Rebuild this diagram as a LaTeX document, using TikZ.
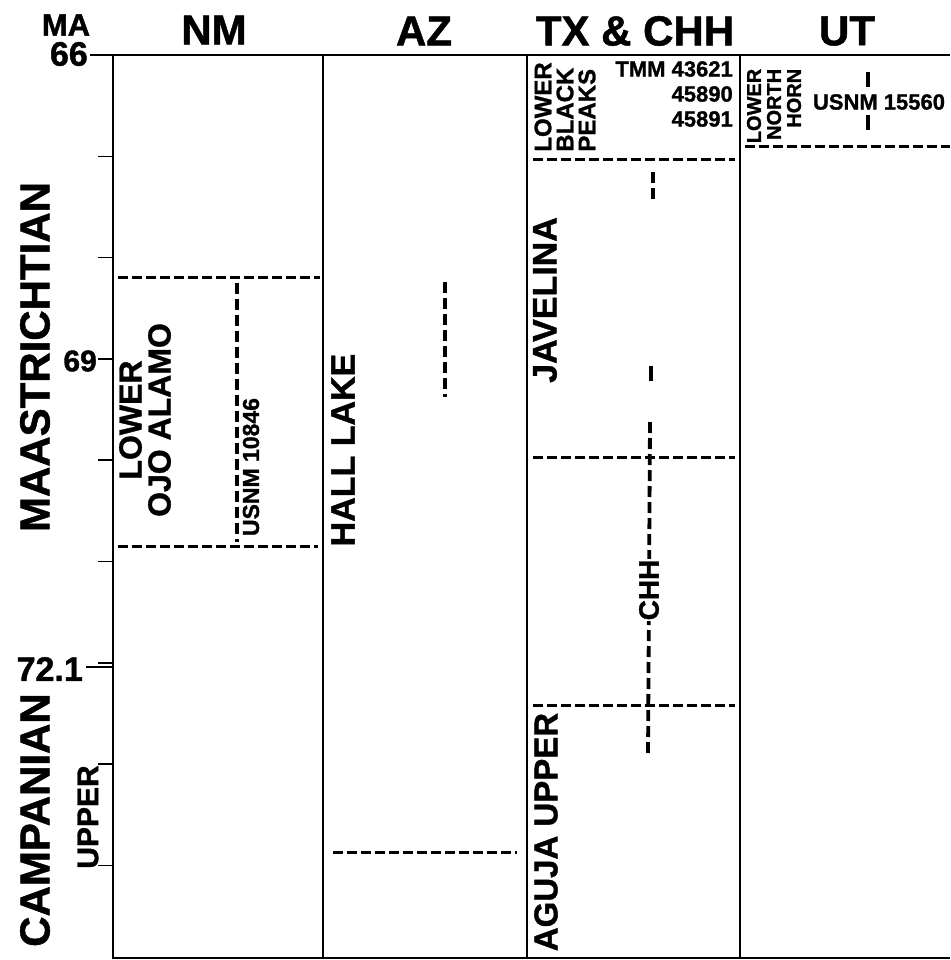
\documentclass[tikz,border=0pt]{standalone}
\usepackage{fontspec}
\setmainfont{Liberation Sans}[BoldFeatures={FakeBold=1.2}]
\usepackage{tikz}
\usetikzlibrary{positioning}

\begin{document}
\begin{tikzpicture}[
    x=1pt, y=-1pt,
    frame/.style={line width=1.7pt},
    tickmark/.style={line width=1.5pt},
    contact/.style={line width=3pt, dash pattern=on 10pt off 4pt},
    rangeline/.style={line width=3.8pt, dash pattern=on 11pt off 5pt},
    stub/.style={line width=3.8pt},
    head/.style={inner sep=0pt, font=\fontsize{42}{42}\selectfont\bfseries},
    stage/.style={inner sep=0pt, rotate=90, font=\fontsize{42}{42}\selectfont\bfseries},
    unit/.style={inner sep=0pt, rotate=90, align=center, font=\fontsize{34}{30}\selectfont\bfseries},
    spec/.style={inner sep=0pt, font=\fontsize{22}{25}\selectfont\bfseries},
    age/.style={inner sep=0pt, anchor=east, font=\fontsize{34}{34}\selectfont\bfseries}
]
    \useasboundingbox (0,0) rectangle (950,960);

    % Frame and columns
    \draw[frame] (90,55) -- (950,55);
    \draw[frame] (113,55) -- (113,958) -- (950,958);
    \foreach \x in {323,527,740}
        \draw[frame] (\x,55) -- (\x,958);

    % Age scale
    \foreach \k in {1,...,8}
        \draw[tickmark] (98,{55+\k*101.3}) -- (113,{55+\k*101.3});
    \draw[tickmark] (86,667) -- (113,667);
    \node[head, font=\fontsize{31}{31}\selectfont\bfseries] (ma) at (66,25) {MA};
    \node[age] (a66) at (88,54) {66};
    \node[age, font=\fontsize{30}{30}\selectfont\bfseries] (a69) at (97,361) {69};
    \node[age] (a72) at (83,669) {72.1};

    % Stages
    \node[stage] (maas) at (35,357) {MAASTRICHTIAN};
    \node[stage] (camp) at (35,820) {CAMPANIAN};
    \node[stage, font=\fontsize{30}{30}\selectfont\bfseries] (upper) at (88,817) {UPPER};

    % Column headings
    \node[head] (nm) at (214,30) {NM};
    \node[head] (az) at (424,31) {AZ};
    \node[head] (tx) at (635,31) {TX \& CHH};
    \node[head] (ut) at (847,31) {UT};

    % NM column
    \draw[contact] (118,277) -- (320,277);
    \draw[contact] (118,546) -- (318,546);
    \draw[rangeline] (237,283) -- (237,542);
    \node[unit, font=\fontsize{32}{29}\selectfont\bfseries] (ojo) at (145,420) {LOWER\\OJO ALAMO};
    \node[spec, rotate=90, font=\fontsize{23}{23}\selectfont\bfseries] (usnm1) at (251,467) {USNM 10846};

    % AZ column
    \node[unit] (hall) at (343,450) {HALL LAKE};
    \draw[rangeline] (445,282) -- (445,397);
    \draw[contact] (333,852) -- (517,852);

    % TX & CHH column
    \node[unit, align=left, font=\fontsize{24}{22}\selectfont\bfseries] (peaks) at (565,107) {LOWER\\BLACK\\PEAKS};
    \node[spec, align=right, anchor=north east] (tmm) at (733,61) {TMM 43621\\45890\\45891};
    \draw[contact] (533,160) -- (735,160);
    \draw[contact] (533,457) -- (735,457);
    \draw[contact] (533,705) -- (735,705);
    \node[unit] (jav) at (545,300) {JAVELINA};
    \node[unit, font=\fontsize{33}{30}\selectfont\bfseries] (aguja) at (546,832) {AGUJA UPPER};
    \draw[rangeline] (653,172) -- (653,202);
    \draw[stub] (651,366) -- (651,381);
    \coordinate (chhtop) at (650,422);
    \coordinate (chhbot) at (648,757);
    \draw[rangeline] (chhtop) -- (chhbot);
    \node[unit, fill=white, inner sep=1pt, font=\fontsize{28}{28}\selectfont\bfseries] (chh) at (649,590) {CHH};

    % UT column
    \node[unit, align=right, font=\fontsize{20}{20}\selectfont\bfseries] (horn) at (774,106) {LOWER\\NORTH\\HORN};
    \draw[stub] (868,72) -- (868,87);
    \draw[stub] (868,115) -- (868,130);
    \node[spec] (usnm2) at (879,102) {USNM 15560};
    \draw[contact] (745,147) -- (950,147);
\end{tikzpicture}
\end{document}
